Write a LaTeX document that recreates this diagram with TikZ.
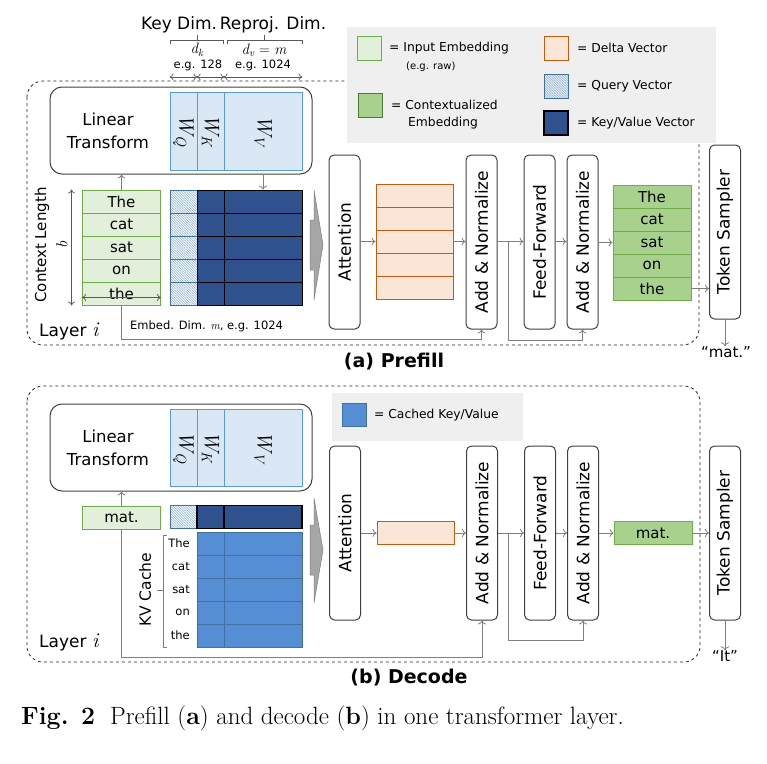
\documentclass[tikz,border=0pt]{standalone}
\usepackage[no-math]{fontspec}
\newfontfamily\dejavu{DejaVu Sans}
\usetikzlibrary{arrows.meta,patterns}

\definecolor{inFill}{HTML}{E2EFDA}
\definecolor{inDraw}{HTML}{70AD47}
\definecolor{ctxFill}{HTML}{A9D18E}
\definecolor{ctxDraw}{HTML}{70AD47}
\definecolor{dFill}{HTML}{FBE5D6}
\definecolor{dDraw}{HTML}{C55A11}
\definecolor{wFill}{HTML}{DAE8F5}
\definecolor{wDraw}{HTML}{5B9BD5}
\definecolor{kvFill}{HTML}{2F528F}
\definecolor{cacheFill}{HTML}{558ED5}
\definecolor{cacheDraw}{HTML}{41719C}
\definecolor{qDraw}{HTML}{41719C}
\definecolor{qLine}{HTML}{8FB4E3}
\definecolor{legGray}{HTML}{EFEFEF}
\definecolor{lineGray}{HTML}{7F7F7F}
\definecolor{darkGray}{HTML}{595959}
\definecolor{boxDraw}{HTML}{404040}
\definecolor{bigArr}{HTML}{A6A6A6}

% fine diagonal hatch for the query vectors
\pgfdeclarepatternformonly{finehatch}{\pgfqpoint{-1pt}{-1pt}}{\pgfqpoint{3.5pt}{3.5pt}}{\pgfqpoint{2.5pt}{2.5pt}}{%
  \pgfsetlinewidth{0.6pt}
  \pgfpathmoveto{\pgfqpoint{-0.2pt}{2.7pt}}
  \pgfpathlineto{\pgfqpoint{2.7pt}{-0.2pt}}
  \pgfusepath{stroke}}

% italic variables in Latin Modern
\newcommand{\var}[1]{{\rmfamily\itshape #1}}
\newcommand{\wmat}[1]{\var{W\textsubscript{#1}}}

\tikzset{
  arr/.style={draw=lineGray, line width=0.8pt, -{To[length=4pt,width=8pt]}},
  dimarr/.style={draw=darkGray, line width=0.7pt, {To[length=4pt,width=7pt]}-{To[length=4pt,width=7pt]}},
  brk/.style={draw=darkGray, line width=0.8pt},
  layerframe/.style={draw=black!85, dashed, line width=0.8pt, rounded corners=16pt},
  block/.style={draw=boxDraw, line width=1pt, rounded corners=5pt, fill=white,
    minimum width=31pt, minimum height=174pt, inner sep=0pt, font=\dejavu\fontsize{17}{20}\selectfont},
  ltbox/.style={draw=boxDraw, line width=1pt, rounded corners=12pt, fill=white,
    minimum width=262pt, minimum height=87pt, inner sep=0pt},
  lttxt/.style={align=center, inner sep=0pt, font=\dejavu\fontsize{16.5}{23}\selectfont},
  wcell/.style={draw=wDraw, fill=wFill, line width=0.9pt, minimum height=78pt, inner sep=0pt,
    font=\fontsize{21}{24}\selectfont},
  cell/.style={minimum height=23pt, inner sep=0pt, line width=0.9pt, font=\dejavu\fontsize{15}{18}\selectfont},
  incell/.style={cell, draw=inDraw, fill=inFill, minimum width=78pt},
  ctxcell/.style={cell, draw=ctxDraw, fill=ctxFill, minimum width=78pt},
  dcell/.style={cell, draw=dDraw, fill=dFill, minimum width=77pt},
  qcell/.style={cell, draw=qDraw, fill=white, pattern=finehatch, pattern color=qLine, minimum width=27pt},
  kvcell/.style={cell, draw=black, fill=kvFill, line width=0.8pt},
  cachecell/.style={cell, draw=cacheDraw, fill=cacheFill},
  cacheword/.style={inner sep=0pt, anchor=east, font=\dejavu\fontsize{11.5}{14}\selectfont},
  swatch/.style={minimum width=24pt, minimum height=24pt},
  legtxt/.style={inner sep=0pt, anchor=west, font=\dejavu\fontsize{12.3}{15}\selectfont},
  hdr/.style={inner sep=0pt, font=\dejavu\fontsize{17}{20}\selectfont},
  small/.style={inner sep=0pt, font=\dejavu\fontsize{11.5}{14}\selectfont},
  sidetxt/.style={inner sep=0pt, font=\dejavu\fontsize{15}{18}\selectfont},
  title/.style={inner sep=0pt, font=\dejavu\bfseries\fontsize{19}{22}\selectfont},
}

\begin{document}
\begin{tikzpicture}[x=1pt,y=-1pt]
\useasboundingbox (0,0) rectangle (767,763);

% header dims
\node[hdr] (keydim) at (179,25) {Key Dim.};
\node[hdr] (repdim) at (273,25) {Reproj. Dim.};
\draw[brk] (170,44) |- (223,40) -- (223,44);
\draw[brk] (197,40) -- (197,35);
\draw[brk] (227,44) |- (302,40) -- (302,44);
\draw[brk] (264,40) -- (264,35);
\node[inner sep=0pt, font=\fontsize{15}{17}\selectfont] (dk) at (197,50) {\var{d\textsubscript{k}}};
\node[inner sep=0pt, font=\fontsize{15}{17}\selectfont] (dv) at (264,50) {\var{d\textsubscript{v}} = \var{m}};
\node[small] (egk) at (198,65) {e.g. 128};
\node[small] (egv) at (263,65) {e.g. 1024};
\coordinate (hdr) at (0,77);

% frames
\draw[layerframe] (27,81) rectangle (699,345);
\draw[layerframe] (27,386) rectangle (700,662);

% legend prefill
\fill[legGray] (347,27) rectangle (716,143);
\node[swatch, draw=inDraw, fill=inFill, line width=0.9pt] (lgIn) at (369,48) {};
\node[legtxt] (lgInT) at (389,48) {= Input Embedding};
\node[inner sep=0pt, anchor=west, font=\dejavu\fontsize{10}{12}\selectfont] (lgInR) at (406,67) {(e.g. raw)};
\node[swatch, draw=ctxDraw!70!black, fill=ctxFill, line width=0.9pt] (lgCtx) at (370,105) {};
\node[legtxt] (lgCtxT) at (391,105) {= Contextualized};
\node[legtxt] (lgCtxT2) at (408,123) {Embedding};
\node[swatch, draw=dDraw, fill=dFill, line width=0.9pt] (lgD) at (556,48) {};
\node[legtxt] (lgDT) at (577,48) {= Delta Vector};
\node[swatch, draw=qDraw, fill=white, pattern=finehatch, pattern color=qLine, line width=0.9pt] (lgQ) at (556,86) {};
\node[legtxt] (lgQT) at (577,86) {= Query Vector};
\node[swatch, draw=black, fill=kvFill, line width=1.1pt] (lgKV) at (556,123) {};
\node[legtxt] (lgKVT) at (577,123) {= Key/Value Vector};

% prefill: linear transform
\node[ltbox] (lt) at (181,130.5) {};
\node[lttxt] (ltT) at (108,130.5) {Linear\\Transform};
\node[wcell, minimum width=27pt] (wq) at (183.5,131) {\rotatebox{-90}{\wmat{Q}}};
\node[wcell, minimum width=27pt] (wk) at (210.5,131) {\rotatebox{-90}{\wmat{K}}};
\node[wcell, minimum width=78pt] (wv) at (263,131) {\rotatebox{-90}{\wmat{V}}};

% prefill: input, query and key/value rows
\foreach \w [count=\i] in {The,cat,sat,on,the} {
  \node[incell] (in\i) at (121.5,{178.5+23*\i}) {\w};
  \node[qcell] (q\i) at (183.5,{178.5+23*\i}) {};
  \node[kvcell, minimum width=27pt] (k\i) at (210.5,{178.5+23*\i}) {};
  \node[kvcell, minimum width=78pt] (v\i) at (263,{178.5+23*\i}) {};
  \node[dcell] (d\i) at (414.5,{172.5+23*\i}) {};
  \node[ctxcell] (out\i) at (652,{173.5+23*\i}) {\w};
}
\draw[dimarr] (q1.west |- hdr) -- (q1.east |- hdr);
\draw[dimarr] (k1.west |- hdr) -- (k1.east |- hdr);
\draw[dimarr] (v1.west |- hdr) -- (v1.east |- hdr);
\draw[dimarr] ([xshift=-10.5pt]in1.north west) -- ([xshift=-10.5pt]in5.south west);
\draw[dimarr] ([yshift=8pt]in5.south west) -- ([yshift=8pt]in5.south east);
\node[sidetxt] (ctxlen) at (42,245) {\rotatebox{90}{Context Length}};
\node[inner sep=0pt, font=\fontsize{16}{18}\selectfont] (ctxb) at (62,245) {\rotatebox{90}{\var{b}}};
\node[small, anchor=west] (embdim) at (130,326) {Embed. Dim. \var{m}, e.g. 1024};
\node[hdr, anchor=west] (layerA) at (39,331) {Layer {\fontsize{21}{22}\selectfont\var{i}}};
\draw[arr] (in1.north) -- (in1.north |- lt.south);
\draw[arr] (v1.north |- lt.south) -- (v1.north);
\filldraw[fill=bigArr, draw=lineGray, line width=0.5pt] (310,220) -- (314,220) -- (314,190) -- (323,245)
  -- (314,300) -- (314,270) -- (310,270) -- cycle;

% prefill: blocks
\node[block] (attn) at (344.5,242) {\rotatebox{90}{Attention}};
\node[block] (an1) at (481.5,242) {\rotatebox{90}{Add \& Normalize}};
\node[block] (ff) at (539.5,242) {\rotatebox{90}{Feed-Forward}};
\node[block] (an2) at (582.5,242) {\rotatebox{90}{Add \& Normalize}};
\node[block] (ts) at (725,232) {\rotatebox{90}{Token Sampler}};
\node[sidetxt] (tokA) at (726,352) {“mat.”};
\draw[arr] (attn.east |- d3) -- (d3.west);
\draw[arr] (d3.east) -- (an1.west |- d3);
\draw[arr] (an1.east |- d3) -- (ff.west |- d3);
\draw[arr] (ff.east |- d3) -- (an2.west |- d3);
\draw[arr] (an2.east |- out3) -- (out3.west);
\draw[arr] (out5.east) -- (ts.west |- out5);
\draw[arr] (ts.south) -- (ts.south |- tokA.north);
\coordinate (skipA) at (121.5,339);
\draw[arr] (in5.south) -- (skipA) -| (an1.south);
\coordinate (brA) at (508,241.5);
\coordinate (brA2) at (508,340);
\draw[arr] (brA) -- (brA2) -| (an2.south);
\node[title] (capA) at (394,362) {(a) Prefill};

% decode: legend
\fill[legGray] (332,393) rectangle (523,441);
\node[swatch, cachecell, minimum width=24pt] (lgC) at (354,415) {};
\node[legtxt] (lgCT) at (374,415) {= Cached Key/Value};

% decode: linear transform
\node[ltbox] (lt2) at (181,447.5) {};
\node[lttxt] (lt2T) at (108,447.5) {Linear\\Transform};
\node[wcell, minimum width=27pt, minimum height=77pt] (wq2) at (183.5,447.5) {\rotatebox{-90}{\wmat{Q}}};
\node[wcell, minimum width=27pt, minimum height=77pt] (wk2) at (210.5,447.5) {\rotatebox{-90}{\wmat{K}}};
\node[wcell, minimum width=78pt, minimum height=77pt] (wv2) at (263,447.5) {\rotatebox{-90}{\wmat{V}}};

% decode: new token and kv cache
\node[incell] (inD) at (121.5,517.5) {mat.};
\node[qcell] (qD) at (183.5,517) {};
\node[kvcell, minimum width=27pt, line width=1.5pt] (kD) at (210.5,517) {};
\node[kvcell, minimum width=78pt, line width=1.5pt] (vD) at (263,517) {};
\foreach \w [count=\i] in {The,cat,sat,on,the} {
  \node[cachecell, minimum width=27pt] (ck\i) at (210.5,{520.5+23*\i}) {};
  \node[cachecell, minimum width=78pt] (cv\i) at (263,{520.5+23*\i}) {};
  \node[cacheword] (cw\i) at (190,{520.5+23*\i}) {\w};
}
\draw[brk, draw=lineGray] (167,535) -- (163,535) -- (163,647) -- (167,647);
\draw[brk, draw=lineGray] (163,590) -- (157,590);
\node[sidetxt, font=\dejavu\fontsize{15.5}{18}\selectfont] (kvlbl) at (145,590) {\rotatebox{90}{KV Cache}};
\node[hdr, anchor=west] (layerB) at (39,642) {Layer {\fontsize{21}{22}\selectfont\var{i}}};
\draw[arr] (inD.north) -- (inD.north |- lt2.south);
\filldraw[fill=bigArr, draw=lineGray, line width=0.5pt] (310,525) -- (314,525) -- (314,498) -- (323,550)
  -- (314,603) -- (314,575) -- (310,575) -- cycle;

% decode: blocks
\node[block] (attnD) at (345,533) {\rotatebox{90}{Attention}};
\node[dcell] (dD) at (415.5,533) {};
\node[block] (an1D) at (482,533) {\rotatebox{90}{Add \& Normalize}};
\node[block] (ffD) at (540,533) {\rotatebox{90}{Feed-Forward}};
\node[block] (an2D) at (583,533) {\rotatebox{90}{Add \& Normalize}};
\node[ctxcell] (outD) at (653,533) {mat.};
\node[block] (tsD) at (725,533) {\rotatebox{90}{Token Sampler}};
\node[sidetxt] (tokB) at (725,656) {“It”};
\draw[arr] (attnD.east) -- (dD.west);
\draw[arr] (dD.east) -- (an1D.west);
\draw[arr] (an1D.east) -- (ffD.west);
\draw[arr] (ffD.east) -- (an2D.west);
\draw[arr] (an2D.east) -- (outD.west);
\draw[arr] (outD.east) -- (tsD.west);
\draw[arr] (tsD.south) -- (tokB.north);
\coordinate (skipB) at (121.5,657);
\draw[arr] (inD.south) -- (skipB) -| (an1D.south);
\coordinate (brB) at (508,533);
\coordinate (brB2) at (508,640);
\draw[arr] (brB) -- (brB2) -| (an2D.south);
\node[title] (capB) at (409,678) {(b) Decode};

% caption
\node[inner sep=0pt, anchor=west, font=\rmfamily\fontsize{25}{30}\selectfont] (cap) at (21,718)
  {\textbf{Fig. 2}\hspace{0.6em}Prefill (\textbf{a}) and decode (\textbf{b}) in one transformer layer.};
\end{tikzpicture}
\end{document}
